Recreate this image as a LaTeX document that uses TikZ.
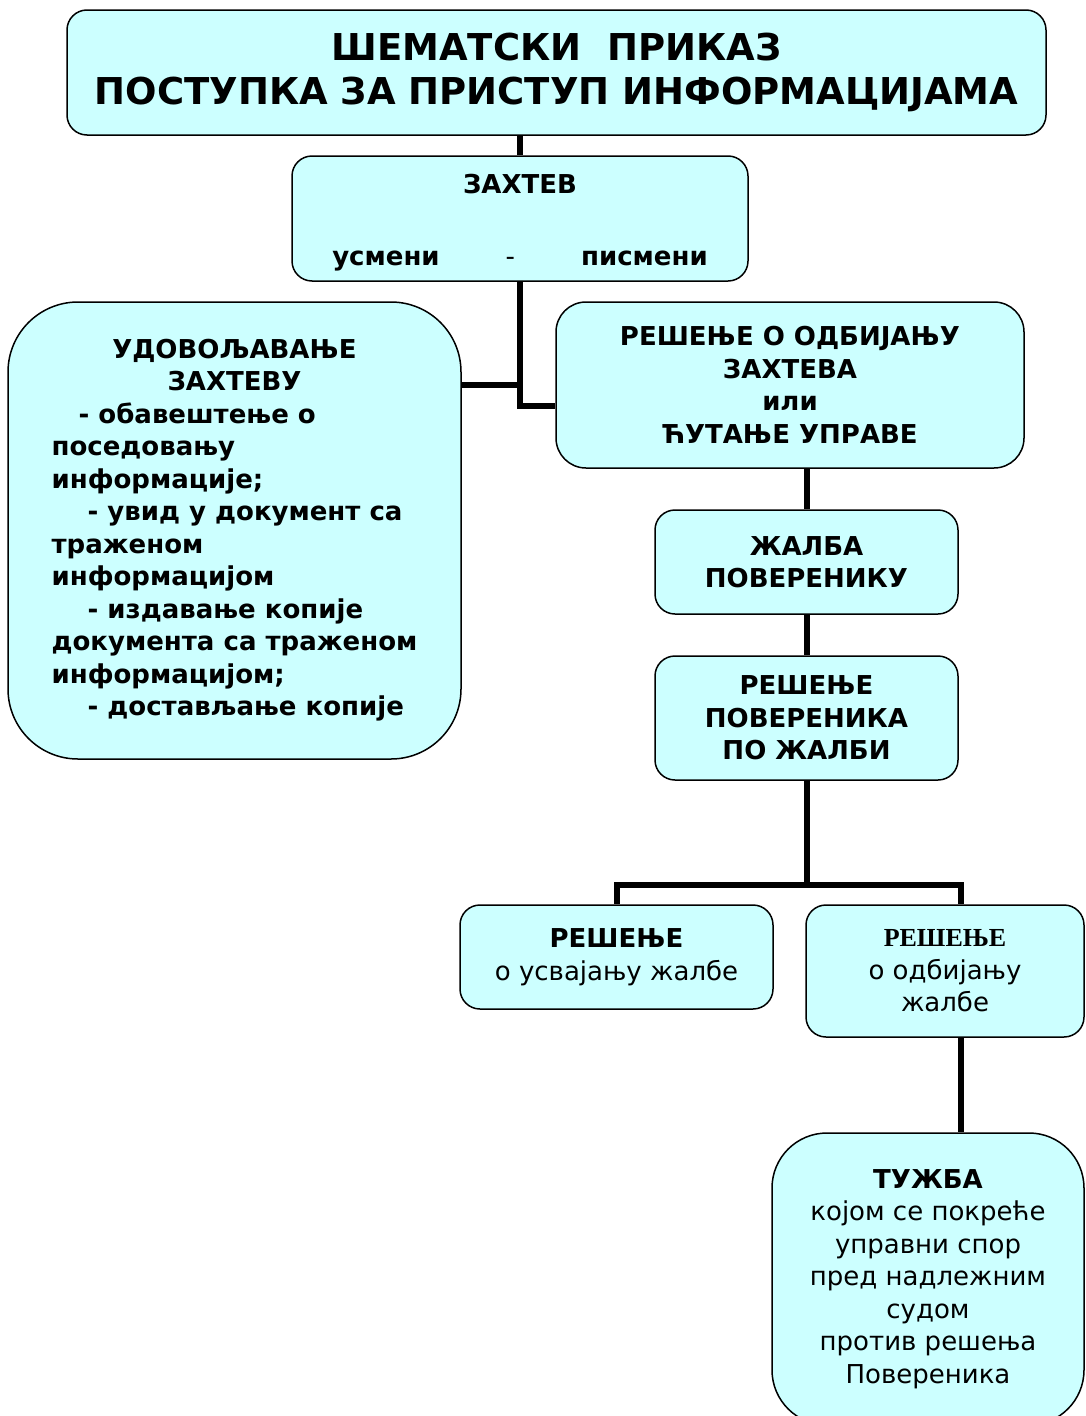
\documentclass[tikz,border=0pt]{standalone}
\usepackage{fontspec}
\setmainfont{DejaVu Sans}
\newfontfamily\serifbold{Liberation Serif}
\definecolor{boxc}{HTML}{CCFFFF}
\begin{document}
\begin{tikzpicture}[x=1pt,y=-1pt,
  box/.style={draw=black, fill=boxc, line width=1.5pt, rounded corners=#1, inner sep=0pt, align=center,
    font=\bfseries\fontsize{26}{32.5}\selectfont},
  box/.default=20pt,
  conn/.style={line width=6pt, line join=miter}]
\useasboundingbox (0,0) rectangle (1086,1416);

\node[box, minimum width=979pt, minimum height=125pt, font=\bfseries\fontsize{37}{44}\selectfont] (title) at (556.5,72.5)
  {ШЕМАТСКИ\ \ ПРИКАЗ\\ПОСТУПКА ЗА ПРИСТУП ИНФОРМАЦИЈАМА};

\node[box, minimum width=456pt, minimum height=125pt, font=\bfseries\fontsize{26}{30}\selectfont] (zahtev) at (520,218.5)
  {\rule{0pt}{28pt}ЗАХТЕВ\\[42pt]усмени\hspace{66pt}{\mdseries -}\hspace{66pt}писмени};

\node[box=70pt, minimum width=453pt, minimum height=457pt] (udov) at (234.5,530.5)
  {\begin{tabular}{@{}l@{}}
   \multicolumn{1}{@{}c@{}}{УДОВОЉАВАЊЕ}\\
   \multicolumn{1}{@{}c@{}}{ЗАХТЕВУ}\\
   \hspace*{27pt}- обавештење о\\
   поседовању\\
   информације;\\
   \hspace*{36pt}- увид у документ са\\
   траженом\\
   информацијом\\
   \hspace*{36pt}- издавање копије\\
   документа са траженом\\
   информацијом;\\
   \hspace*{36pt}- достављање копије
   \end{tabular}};

\node[box=30pt, minimum width=468pt, minimum height=166pt] (odb) at (790,385)
  {РЕШЕЊЕ О ОДБИЈАЊУ\\ЗАХТЕВА\\или\\ЋУТАЊЕ УПРАВЕ};

\node[box, minimum width=303pt, minimum height=104pt] (zalba) at (806.5,562)
  {ЖАЛБА\\ПОВЕРЕНИКУ};

\node[box, minimum width=303pt, minimum height=124pt] (respov) at (806.5,718)
  {РЕШЕЊЕ\\ПОВЕРЕНИКА\\ПО ЖАЛБИ};

\node[box, minimum width=313pt, minimum height=104pt] (usv) at (616.5,957)
  {РЕШЕЊЕ\\{\mdseries о усвајању жалбе}};

\node[box, minimum width=278pt, minimum height=132pt] (odbz) at (945,971)
  {{\serifbold\fontsize{26}{28}\selectfont РЕШЕЊЕ}\\{\mdseries о одбијању}\\{\mdseries жалбе}};

\node[box=55pt, minimum width=312pt, minimum height=292pt] (tuzba) at (928,1279)
  {ТУЖБА\\{\mdseries којом се покреће}\\{\mdseries управни спор}\\{\mdseries пред надлежним}\\{\mdseries судом}\\{\mdseries против решења}\\{\mdseries Повереника}};

\coordinate (split) at (806.5,884.5);

\draw[conn] (zahtev.north |- title.south) -- (zahtev.north);
\draw[conn] (zahtev.south) |- ([yshift=-20.5pt]odb.west);
\draw[conn] ([yshift=145.5pt]udov.east) -- ([yshift=145.5pt]udov.east -| zahtev.south);
\draw[conn] (zalba.north |- odb.south) -- (zalba.north);
\draw[conn] (zalba.south) -- (respov.north);
\draw[conn] (respov.south) -- (split);
\draw[conn] (split) -| (usv.north);
\draw[conn] (split) -| ([xshift=15.5pt]odbz.north);
\draw[conn] ([xshift=15.5pt]odbz.south) -- ([xshift=15.5pt]odbz.south |- tuzba.north);
\end{tikzpicture}
\end{document}
